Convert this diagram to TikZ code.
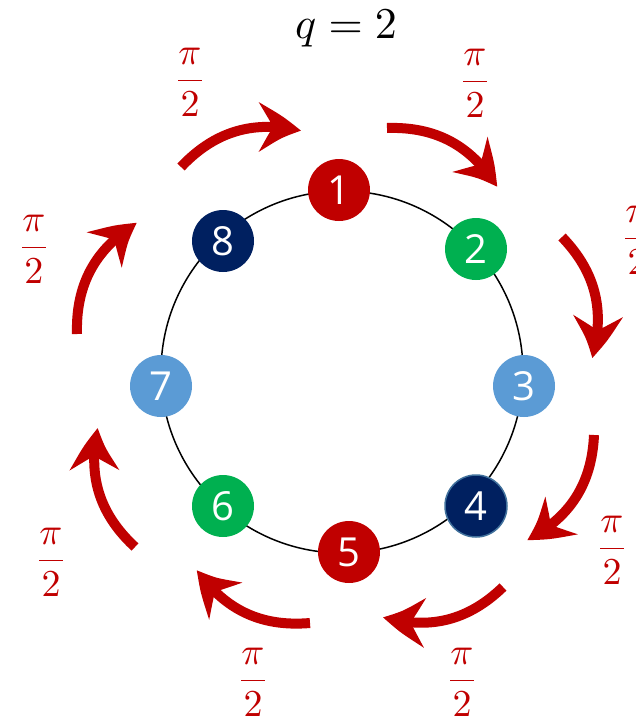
\documentclass[tikz,border=0pt]{standalone}
\usepackage{fontspec}
\setsansfont{Open Sans}
\usepackage{amsmath}
\usepackage{graphicx}
\usetikzlibrary{arrows.meta,bending}
\definecolor{dred}{HTML}{C00000}
\definecolor{dgreen}{HTML}{00B050}
\definecolor{lblue}{HTML}{5B9BD5}
\definecolor{navy}{HTML}{002060}
\definecolor{ring}{HTML}{41719C}
\newcommand{\pihalf}{\scalebox{3.8}{$\dfrac{\pi}{2}$}}
\begin{document}
\begin{tikzpicture}[x=1pt,y=1pt,
  ball/.style={circle,minimum size=62pt,inner sep=0pt,text=white,
    font=\sffamily\fontsize{40}{40}\selectfont},
  rot/.style={draw=dred,line width=10pt,
    -{Stealth[length=44pt,width=48pt,inset=15pt,bend]},bend left=30},
  frac/.style={text=dred,inner sep=0pt}]
\useasboundingbox (0,0) rectangle (635,-723);
\draw[line width=1.5pt] (342,-372) circle (181);
\node[ball,fill=dred]   (n1) at (339,-190) {1};
\node[ball,fill=dgreen] (n2) at (476,-249) {2};
\node[ball,fill=lblue]  (n3) at (524,-386) {3};
\node[ball,fill=navy,draw=ring,line width=1.5pt] (n4) at (476,-506) {4};
\node[ball,fill=dred]   (n5) at (349,-552) {5};
\node[ball,fill=dgreen] (n6) at (223,-506) {6};
\node[ball,fill=lblue]  (n7) at (161,-386) {7};
\node[ball,fill=navy]   (n8) at (223,-241) {8};
\node[inner sep=0pt] (title) at (346,-29) {\scalebox{4.4}{$q = 2$}};
\node[frac] (f1) at (190,-82)  {\pihalf};
\node[frac] (f2) at (475,-83)  {\pihalf};
\node[frac] (f3) at (637,-240) {\pihalf};
\node[frac] (f4) at (612,-550) {\pihalf};
\node[frac] (f5) at (462,-682) {\pihalf};
\node[frac] (f6) at (253,-682) {\pihalf};
\node[frac] (f7) at (51,-562)  {\pihalf};
\node[frac] (f8) at (34,-249)  {\pihalf};
\coordinate (a1s) at (181,-167); \coordinate (a1e) at (301,-131);
\coordinate (a2s) at (387,-128); \coordinate (a2e) at (497,-187);
\coordinate (a3s) at (562,-237); \coordinate (a3e) at (592,-358);
\coordinate (a4s) at (594,-435); \coordinate (a4e) at (527,-540);
\coordinate (a5s) at (503,-587); \coordinate (a5e) at (383,-617);
\coordinate (a6s) at (310,-623); \coordinate (a6e) at (197,-570);
\coordinate (a7s) at (135,-547); \coordinate (a7e) at (98,-428);
\coordinate (a8s) at (77,-334);  \coordinate (a8e) at (137,-223);
\foreach \i in {1,...,8} \draw[rot] (a\i s) to (a\i e);
\end{tikzpicture}
\end{document}
